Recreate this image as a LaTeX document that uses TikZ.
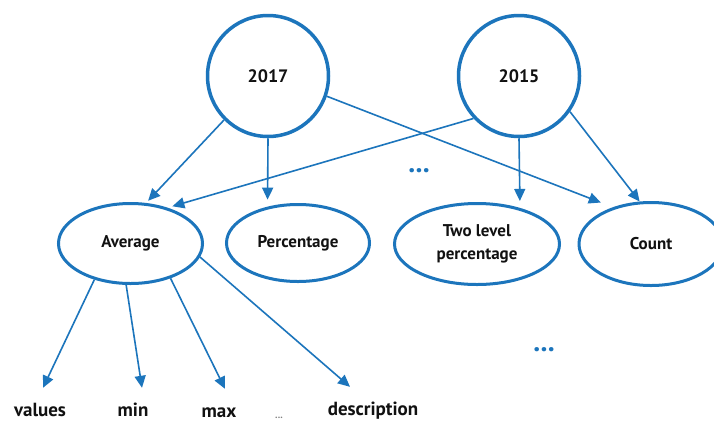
\documentclass[tikz,border=0pt]{standalone}
\usepackage{fontspec}
\setmainfont{PT Sans}
\usetikzlibrary{shapes.geometric,arrows.meta}
\definecolor{myblue}{RGB}{28,117,188}
\definecolor{ink}{RGB}{17,17,17}
\begin{document}
\begin{tikzpicture}[x=1pt,y=-1pt,
  yearnode/.style={circle,draw=myblue,line width=3.5pt,minimum size=121pt,inner sep=0pt,text=ink,
    font=\bfseries\fontsize{18}{22}\selectfont},
  catnode/.style={ellipse,draw=myblue,line width=3pt,inner sep=0pt,text=ink,align=center,
    font=\bfseries\fontsize{17}{23}\selectfont},
  link/.style={draw=myblue,line width=1.6pt,-{Triangle[length=12pt,width=11pt]}},
  lbl/.style={anchor=base,text=ink,font=\bfseries\fontsize{19}{22}\selectfont,
    inner xsep=0pt,inner ysep=14pt,text height=14pt,text depth=4pt},
  moredots/.style={anchor=base,text=myblue,inner sep=0pt,font=\bfseries\fontsize{28}{28}\selectfont}
]
\useasboundingbox[fill=white] (0,0) rectangle (714,421);

% top circles
\node[yearnode] (y2017) at (268,76) {2017};
\node[yearnode] (y2015) at (519,76) {2015};

% ellipses
\node[catnode,minimum width=144pt,minimum height=80pt] (avg) at (130.5,243.5) {Average};
\node[catnode,minimum width=143pt,minimum height=77pt] (pct) at (298,243) {Percentage};
\node[catnode,minimum width=165pt,minimum height=81pt] (two) at (477,244) {Two level\\percentage};
\node[catnode,minimum width=144pt,minimum height=83pt] (cnt) at (651,244) {Count};

% bottom labels
\node[lbl] (values) at (40,416) {values};
\node[lbl] (min) at (133,416) {min};
\node[lbl] (max) at (219,417) {max};
\node[lbl,text=gray,font=\bfseries\fontsize{10}{12}\selectfont,text height=8pt,text depth=1pt,inner ysep=1pt] (etc) at (279,418) {...};
\node[lbl] (desc) at (373,415) {description};

% blue ellipses of omission
\node[moredots] (dotsA) at (419,172) {...};
\node[moredots] (dotsB) at (544,351) {...};

% connectors from 2017
\draw[link,shorten >=3pt] (y2017.225.6) -- (avg.69);
\draw[link,shorten >=7pt] (y2017.south) -- (pct.130);
\draw[link,shorten >=13pt] (y2017.-19.5) -- (cnt.136.5);

% connectors from 2015
\draw[link,shorten >=5pt] (y2015.223) -- (avg.44);
\draw[link,shorten >=7pt] (y2015.south) -- (two.40.6);
\draw[link] (y2015.-35) -- (cnt.105);

% connectors from Average
\draw[link] (avg.225.7) -- ([xshift=3pt]values.north);
\draw[link] (avg.264.5) -- ([xshift=9pt]min.north);
\draw[link] (avg.-41.4) -- ([xshift=6pt]max.north);
\draw[link] (avg.-11.8) -- ([xshift=-23pt]desc.north);
\end{tikzpicture}
\end{document}
